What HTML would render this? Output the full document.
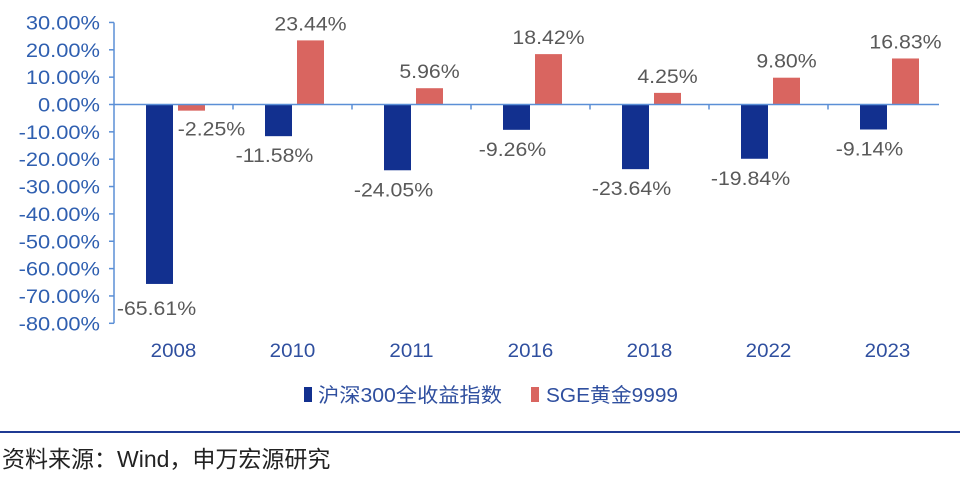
<!DOCTYPE html>
<html><head><meta charset="utf-8"><style>
body{margin:0;background:#fff;width:960px;height:476px;overflow:hidden;font-family:"Liberation Sans","Noto Sans CJK SC",sans-serif}
</style></head><body>
<svg width="960" height="476" xmlns="http://www.w3.org/2000/svg">
<g id="yaxis"></g>
<g id="bars"></g>
<g id="labels"></g>
<g id="xaxis"></g>
<g font-size="20" fill="#2f4f9f">
<rect x="304" y="387" width="8" height="15" fill="#12308f"/>
<text x="318" y="402" textLength="184" lengthAdjust="spacingAndGlyphs">沪深300全收益指数</text>
<rect x="531" y="387" width="8" height="15" fill="#d96560"/>
<text x="546" y="402" textLength="132" lengthAdjust="spacingAndGlyphs">SGE黄金9999</text>
</g>
<rect x="0" y="431" width="960" height="2" fill="#1f3a93"/>
<text x="2" y="467" font-size="23" fill="#222">资料来源：Wind，申万宏源研究</text>
</svg>
<script>
const categories=["2008","2010","2011","2016","2018","2022","2023"];
const csi300=[-65.61,-11.58,-24.05,-9.26,-23.64,-19.84,-9.14];
const gold=[-2.25,23.44,5.96,18.42,4.25,9.80,16.83];
const yTicks=[30,20,10,0,-10,-20,-30,-40,-50,-60,-70,-80];
const NS="http://www.w3.org/2000/svg";
const x0=114,cw=119,y0=104.5,py=2.735;
const Y=v=>y0-v*py;
const X=i=>x0+i*cw;
function mk(t,a,p){const e=document.createElementNS(NS,t);for(const k in a)e.setAttribute(k,a[k]);p.appendChild(e);return e;}
function stretch(e,f){const w=e.getComputedTextLength();e.setAttribute('textLength',w*f);e.setAttribute('lengthAdjust','spacingAndGlyphs');}
const ya=document.getElementById('yaxis'),bars=document.getElementById('bars'),lab=document.getElementById('labels'),xa=document.getElementById('xaxis');
const axc="#5b8fd6";
let l=mk('line',{x1:x0,x2:x0,y1:Y(30),y2:Y(-80),stroke:axc,'stroke-width':1.5},ya);


yTicks.forEach(v=>{
 let t=mk('line',{x1:x0-5,x2:x0,y1:Y(v),y2:Y(v),stroke:axc,'stroke-width':1.5},ya);
 
 
 let tx=mk('text',{x:100,y:Y(v)+7,'text-anchor':'end','font-size':19,fill:'#2f5fb0'},ya);
 tx.textContent=v.toFixed(2)+'%';
 
 
 stretch(tx,1.15);
});
let z=mk('line',{x1:x0,x2:X(7)-8,y1:Y(0),y2:Y(0),stroke:axc,'stroke-width':1.5},xa);


categories.forEach((c,i)=>{
 if(i>0){let t=mk('line',{x1:X(i),x2:X(i),y1:Y(0),y2:Y(0)+5,stroke:axc,'stroke-width':1.5},xa);
 
 }
 let tx=mk('text',{x:X(i)+cw/2,y:357,'text-anchor':'middle','font-size':19,fill:'#2f4f9f'},xa);
 tx.textContent=c;
 
 
 stretch(tx,1.08);
 [[csi300,'#12308f',32,'bar-csi300'],[gold,'#d96560',64,'bar-gold']].forEach(([arr,col,off,nm])=>{
  const v=arr[i],bx=X(i)+off,bw=27;
  let r=mk('rect',{x:bx,y:Math.min(Y(v),Y(0)),width:bw,height:Math.abs(Y(v)-Y(0)),fill:col},bars);
  
  
  let dx=bx+bw/2, dy=v>=0?Y(v)-10:Y(v)+26;
  if(nm==='bar-csi300'){dx-=4;}
  if(nm==='bar-gold'&&v<0){dx+=20;dy=Y(v)+25;}
  if(nm==='bar-csi300'&&i===0){dx+=1;dy=Y(v)+31;}
  let lt=mk('text',{x:dx,y:dy,'text-anchor':'middle','font-size':19,fill:'#595959'},lab);
  lt.textContent=v.toFixed(2)+'%';
  
  
  stretch(lt,1.12);
 });
});
</script>
</body></html>
